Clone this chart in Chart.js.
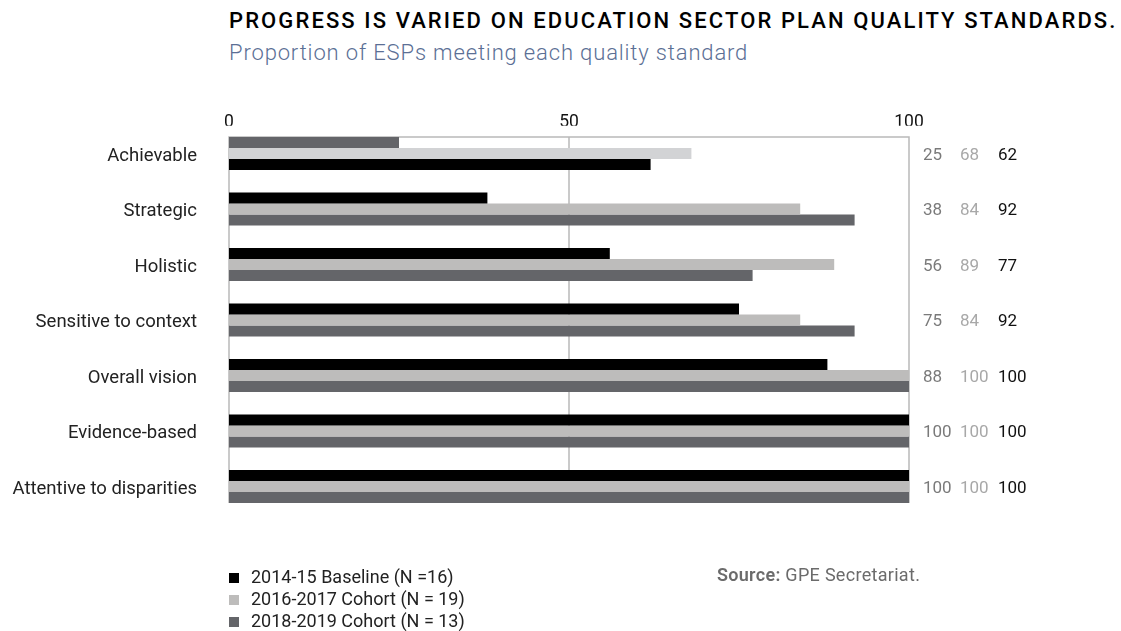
<!DOCTYPE html>
<html>
<head>
<meta charset="utf-8">
<script src="https://cdn.jsdelivr.net/npm/chart.js@4.4.1/dist/chart.umd.min.js"></script>
<style>
  html, body { margin: 0; padding: 0; background: #fff; }
  body { width: 1121px; height: 631px; position: relative; overflow: hidden; font-family: Roboto, sans-serif; }
  #chart { position: absolute; left: 0; top: 0; }
  .title { position: absolute; left: 229px; top: 8px; font-size: 22px; font-weight: 500; letter-spacing: 2.1px; color: #000; white-space: nowrap; }
  .subtitle { position: absolute; left: 229px; top: 40px; font-size: 22px; font-weight: 300; letter-spacing: 0.85px; color: #5b6f95; white-space: nowrap; }
  .legend { position: absolute; left: 229px; top: 566px; font-size: 18px; color: #222; }
  .legend div { height: 22px; line-height: 22px; white-space: nowrap; }
  .legend span { display: inline-block; width: 10px; height: 10px; margin-right: 12px; vertical-align: 0px; }
  .source { position: absolute; left: 717px; top: 564px; font-size: 18px; letter-spacing: 0.3px; color: #6b6b6b; white-space: nowrap; }
</style>
</head>
<body>
<div class="title">PROGRESS IS VARIED ON EDUCATION SECTOR PLAN QUALITY STANDARDS.</div>
<div class="subtitle">Proportion of ESPs meeting each quality standard</div>
<canvas id="chart" width="1121" height="631"></canvas>
<div class="legend">
  <div><span style="background:#000"></span>2014-15 Baseline (N =16)</div>
  <div><span style="background:#bdbcbb"></span>2016-2017 Cohort (N = 19)</div>
  <div><span style="background:#646569"></span>2018-2019 Cohort (N = 13)</div>
</div>
<div class="source"><b style="font-weight:600">Source:</b> GPE Secretariat.</div>
<script>
// categories, top to bottom
const standards = ['Achievable', 'Strategic', 'Holistic', 'Sensitive to context', 'Overall vision', 'Evidence-based', 'Attentive to disparities'];
const seriesNames = ['2014-15 Baseline (N =16)', '2016-2017 Cohort (N = 19)', '2018-2019 Cohort (N = 13)'];
// values by bar position in each group (top, middle, bottom), as printed at right
const topBar = [25, 38, 56, 75, 88, 100, 100];
const midBar = [68, 84, 89, 84, 100, 100, 100];
const bottomBar = [62, 92, 77, 92, 100, 100, 100];
const xTicks = [0, 50, 100];

const BLACK = '#000000';
const LIGHT = '#bdbcbb';
const DARK = '#646569';
// first row of the original has its top and bottom colours swapped
const topColors = standards.map((_, i) => (i === 0 ? DARK : BLACK));
const midColors = standards.map((_, i) => (i === 0 ? '#d2d3d5' : LIGHT));
const bottomColors = standards.map((_, i) => (i === 0 ? BLACK : DARK));

const CAT_PCT = 0.595;

const frame = {
  id: 'frame',
  beforeDatasetsDraw(chart) {
    const { ctx, chartArea, scales } = chart;
    const band = (chartArea.bottom - chartArea.top) / standards.length;
    const top = chartArea.top + band * (1 - CAT_PCT) / 2;
    const bottom = chartArea.bottom - band * (1 - CAT_PCT) / 2;
    ctx.save();
    ctx.strokeStyle = '#b9b9b9';
    ctx.lineWidth = 1.5;
    ctx.beginPath();
    ctx.moveTo(chartArea.left, bottom);
    ctx.lineTo(chartArea.left, top);
    ctx.lineTo(chartArea.right, top);
    ctx.lineTo(chartArea.right, bottom);
    xTicks.slice(1, -1).forEach((t) => {
      const x = scales.x.getPixelForValue(t);
      ctx.moveTo(x, top);
      ctx.lineTo(x, bottom);
    });
    ctx.stroke();
    ctx.restore();
  },
  afterDatasetsDraw(chart) {
    const { ctx, scales } = chart;
    const cols = [
      { x: 923, color: '#7a7a7a', vals: topBar },
      { x: 960, color: '#a8a8a8', vals: midBar },
      { x: 998, color: '#111111', vals: bottomBar },
    ];
    ctx.save();
    ctx.font = '17px Roboto';
    ctx.textAlign = 'left';
    ctx.textBaseline = 'middle';
    standards.forEach((_, i) => {
      const y = scales.y.getPixelForValue(i) + 2;
      cols.forEach((c) => {
        ctx.fillStyle = c.color;
        ctx.fillText(String(c.vals[i]), c.x, y);
      });
    });
    ctx.restore();
  },
};

new Chart(document.getElementById('chart'), {
  type: 'bar',
  data: {
    labels: standards,
    datasets: [
      { label: seriesNames[0], data: topBar, backgroundColor: topColors },
      { label: seriesNames[1], data: midBar, backgroundColor: midColors },
      { label: seriesNames[2], data: bottomBar, backgroundColor: bottomColors },
    ],
  },
  options: {
    indexAxis: 'y',
    responsive: false,
    animation: false,
    datasets: { bar: { categoryPercentage: CAT_PCT, barPercentage: 1, borderWidth: 0 } },
    layout: { padding: { top: 0, left: 0, right: 212, bottom: 116.75 } },
    plugins: { legend: { display: false }, tooltip: { enabled: false } },
    scales: {
      x: {
        position: 'top',
        min: 0,
        max: 100,
        afterBuildTicks: (s) => { s.ticks = xTicks.map((v) => ({ value: v })); },
        afterFit: (s) => { s.height = 125.75; },
        grid: { display: false, drawTicks: false },
        border: { display: false },
        ticks: { color: '#111', font: { family: 'Roboto', size: 17.5 }, padding: -7, maxRotation: 0 },
      },
      y: {
        afterFit: (s) => { s.width = 229; },
        grid: { display: false, drawTicks: false },
        border: { display: false },
        ticks: { color: '#222', font: { family: 'Roboto', size: 18.5 }, padding: 32, labelOffset: 2.5 },
      },
    },
  },
  plugins: [frame],
});
</script>
</body>
</html>
